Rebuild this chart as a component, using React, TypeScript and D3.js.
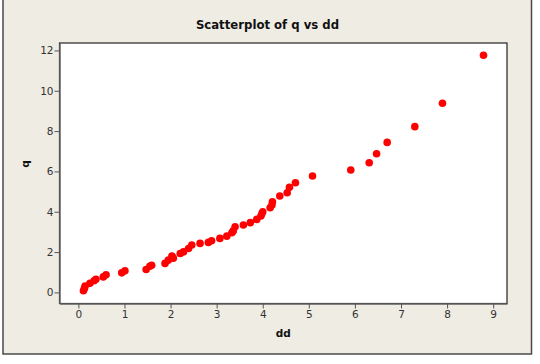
import React, { useEffect, useRef } from 'react';
import * as d3 from 'd3';

const ddValues = [
  0.11, 0.13, 0.145, 0.25, 0.34, 0.38, 0.54, 0.6, 0.94, 1.01,
  1.47, 1.55, 1.59, 1.88, 1.95, 2.03, 2.06, 2.21, 2.28, 2.39,
  2.46, 2.64, 2.82, 2.89, 3.07, 3.22, 3.33, 3.36, 3.4, 3.58,
  3.73, 3.87, 3.96, 3.98, 4.0, 4.16, 4.2, 4.21, 4.37, 4.53,
  4.58, 4.71, 5.08, 5.91, 6.31, 6.47, 6.7, 7.3, 7.9, 8.79
];
const qValues = [
  0.08, 0.2, 0.31, 0.45, 0.58, 0.65, 0.77, 0.87, 0.97, 1.07,
  1.14, 1.3, 1.35, 1.44, 1.6, 1.8, 1.7, 1.93, 2.01, 2.18,
  2.35, 2.43, 2.48, 2.56, 2.68, 2.79, 2.96, 3.05, 3.26, 3.34,
  3.46, 3.62, 3.79, 3.9, 4.0, 4.2, 4.33, 4.5, 4.78, 4.94,
  5.21, 5.44, 5.77, 6.07, 6.43, 6.88, 7.44, 8.22, 9.38, 11.76
];
const xTicks = [0, 1, 2, 3, 4, 5, 6, 7, 8, 9];
const yTicks = [0, 2, 4, 6, 8, 10, 12];

const chartTitle = 'Scatterplot of q vs dd';
const xLabel = 'dd';
const yLabel = 'q';

const App: React.FC = () => {
  const chartRef = useRef<SVGSVGElement>(null);

  useEffect(() => {
    if (!chartRef.current) return;
    const root = d3.select(chartRef.current);
    root.selectAll('*').remove();

    const W = 540;
    const H = 364;
    const plot = { left: 59.5, right: 507, top: 43, bottom: 303.5 };

    // outer frame
    root.append('rect')
      .attr('width', W)
      .attr('height', H)
      .attr('fill', '#ffffff');
    root.append('rect')
      .attr('x', 3)
      .attr('y', -2)
      .attr('width', 528.5)
      .attr('height', 356)
      .attr('fill', '#efece4')
      .attr('stroke', '#4a4a4a')
      .attr('stroke-width', 1.5);

    const x = d3.scaleLinear()
      .domain([-0.41, 9.3])
      .range([plot.left, plot.right]);
    const y = d3.scaleLinear()
      .domain([-0.55, 12.37])
      .range([plot.bottom, plot.top]);

    // plot area
    root.append('rect')
      .attr('x', plot.left)
      .attr('y', plot.top)
      .attr('width', plot.right - plot.left)
      .attr('height', plot.bottom - plot.top)
      .attr('fill', '#ffffff')
      .attr('stroke', '#222')
      .attr('stroke-width', 1.2);

    // axes
    const xAxis = root.append('g')
      .attr('transform', `translate(0,${plot.bottom})`)
      .call(d3.axisBottom(x).tickValues(xTicks).tickSize(5).tickPadding(2).tickSizeOuter(0));
    const yAxis = root.append('g')
      .attr('transform', `translate(${plot.left},0)`)
      .call(d3.axisLeft(y).tickValues(yTicks).tickSize(5).tickPadding(1).tickSizeOuter(0));

    [xAxis, yAxis].forEach(ax => {
      ax.select('.domain').attr('stroke', '#666').attr('stroke-width', 1.5);
      ax.selectAll('.tick line').attr('stroke', '#555');
      ax.selectAll('.tick text')
        .attr('fill', '#333')
        .style('font-family', 'DejaVu Sans')
        .style('font-size', '10.5px');
    });

    // points
    const data = ddValues.map((d, i) => ({ dd: d, q: qValues[i] }));
    root.append('g')
      .selectAll('circle')
      .data(data)
      .join('circle')
      .attr('cx', d => x(d.dd))
      .attr('cy', d => y(d.q))
      .attr('r', 3.8)
      .attr('fill', '#ff0000');

    // title + labels
    root.append('text')
      .attr('x', 267.5)
      .attr('y', 29)
      .attr('text-anchor', 'middle')
      .attr('fill', '#111')
      .style('font-family', 'DejaVu Sans Condensed')
      .style('font-weight', 'bold')
      .style('font-size', '13px')
      .text(chartTitle);

    root.append('text')
      .attr('x', (plot.left + plot.right) / 2)
      .attr('y', 337)
      .attr('text-anchor', 'middle')
      .attr('fill', '#111')
      .style('font-family', 'DejaVu Sans')
      .style('font-weight', 'bold')
      .style('font-size', '10.5px')
      .text(xLabel);

    root.append('text')
      .attr('transform', `translate(29,164) rotate(-90)`)
      .attr('text-anchor', 'middle')
      .attr('fill', '#111')
      .style('font-family', 'DejaVu Sans')
      .style('font-weight', 'bold')
      .style('font-size', '10.5px')
      .text(yLabel);
  }, []);

  return (
    <div style={{ position: 'fixed', left: 0, top: 0 }}>
      <svg ref={chartRef} width={540} height={364} style={{ display: 'block' }} />
    </div>
  );
};

export default App;
